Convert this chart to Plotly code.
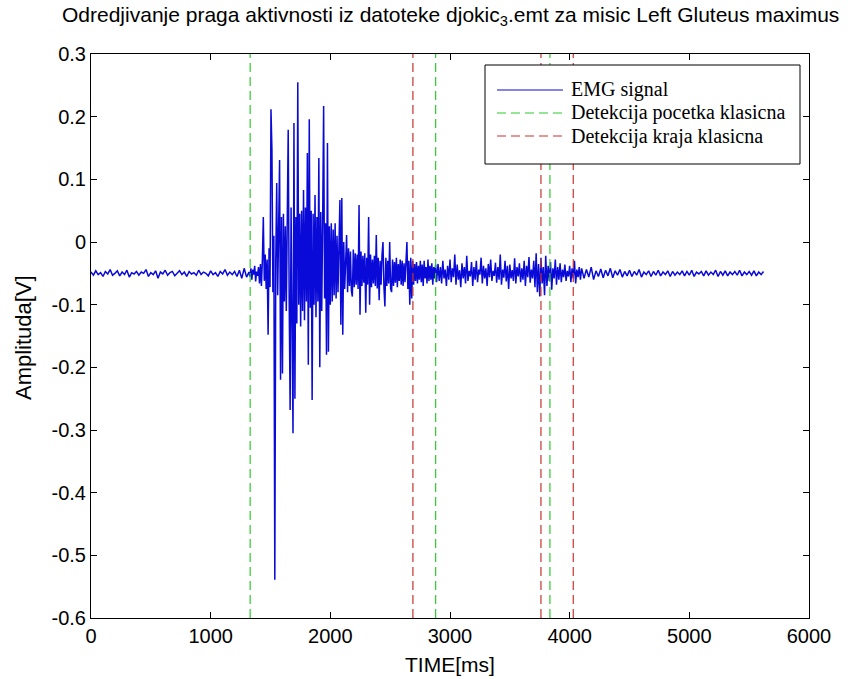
import plotly.graph_objects as go

# ---------------- data (amplitudes in mV, times in ms) ----------------
# baseline segment: starts at 0 ms, 20 ms sampling
base_t0, base_dt = 0, 20
base_mv = [
    -48, -53, -46, -52, -49, -55, -47, -51, -44, -53,
    -50, -46, -54, -48, -52, -45, -56, -49, -51, -47,
    -53, -48, -50, -44, -55, -49, -52, -46, -58, -48,
    -51, -45, -53, -49, -47, -54, -50, -46, -52, -48,
    -55, -47, -51, -49, -53, -45, -52, -48, -50, -54,
    -46, -52, -49, -55, -47, -51, -44, -53, -48, -52,
    -47, -55, -45, -58, -42, -56,
]
# burst segment: starts at 1320 ms, 8 ms sampling
burst_t0, burst_dt = 1320, 8
burst_mv = [
    -48, -55, -42, -60, -44, -52, -38, -63, -47, -54,
    -40, -66, -35, -70, -30, 40, -62, -20, -75, -28,
    -148, -10, -72, 212, 147, -80, 10, -539, -30, 94,
    -85, 20, 131, -220, 40, -210, 45, -95, 25, -110,
    50, 179, -90, -268, 55, -120, -305, 190, -250, 40,
    -130, 255, -100, 45, -135, 50, -110, 83, -125, 55,
    -95, 142, -196, 196, -105, 50, -252, 45, -100, 75,
    -120, 40, -95, 134, -200, 48, -110, 35, 217, -90,
    30, -180, 158, -175, 25, -100, 30, -95, 20, -85,
    30, -90, 10, -80, 15, 67, -132, 70, -148, 0,
    -75, -5, 11, -80, -10, -70, -15, -78, -87, -12,
    -72, -18, -68, -20, -75, 59, -116, -15, -70, -22,
    -65, -18, -113, -25, -68, 40, -100, -20, -72, -28,
    -66, -22, -70, 11, -74, -25, -93, -30, -68, -20,
    0, -72, -103, -25, -70, -30, -66, 0, -75, -80,
    -28, -70, -32, -65, -25, -72, -35, -62, -28, -68,
    -30, -70, -34, -64, -28, 0, -75, -30, -100, -25,
    -90, -30, -68, -35, -62, -32, -66, -38, -60, -30,
    -64, -36, -70, -30, -58, -40, -66, -28, -62, -38,
    -60, -34, -68, -40, -58, -36, -64, -42,
]
# post-burst segment: starts at 2900 ms, 10 ms sampling
post_t0, post_dt = 2900, 10
post_mv = [
    -35, -62, -40, -66, -30, -58, -44, -70, -38, -60,
    -28, -64, -42, -56, -20, -68, -36, -60, -45, -72,
    -34, -58, -40, -66, -22, -62, -46, -55, -32, -70,
    -40, -60, -30, -64, -44, -52, -25, -66, -38, -58,
    -42, -70, -35, -56, -28, -62, -46, -54, -33, -65,
    -40, -60, -20, -68, -44, -57, -30, -63, -38, -75,
    -36, -58, -45, -62, -26, -66, -40, -55, -34, -64,
    -42, -60, -30, -70, -38, -56, -24, -65, -44, -58,
    -30, -72, -18, -80, -35, -87, -25, -66, -40, -85,
    -22, -70, -38, -62, -32, -76, -42, -58, -28, -68,
    -40, -60, -34, -64, -44, -56, -36, -62, -46, -55,
    -38, -64, -42, -58, -30, -66, -44, -56, -40, -60,
]
# tail segment: starts at 4100 ms, 20 ms sampling
tail_t0, tail_dt = 4100, 20
tail_mv = [
    -42, -58, -44, -56, -40, -60, -46, -55, -43, -57,
    -45, -54, -42, -57, -46, -53, -44, -56, -47, -54,
    -45, -55, -47, -53, -44, -56, -48, -52, -46, -55,
    -47, -53, -45, -54, -48, -52, -46, -55, -47, -53,
    -48, -52, -46, -54, -47, -53, -45, -55, -48, -51,
    -47, -54, -46, -53, -48, -52, -45, -55, -47, -53,
    -46, -54, -48, -52, -47, -53, -45, -54, -48, -52,
    -47, -53, -46, -54, -48, -52, -47,
]

onset_ms = [1330, 2880, 3835]    # Detekcija pocetka klasicna
offset_ms = [2690, 3760, 4030]   # Detekcija kraja klasicna

x_ticks = [0, 1000, 2000, 3000, 4000, 5000, 6000]
y_ticks = [0.3, 0.2, 0.1, 0, -0.1, -0.2, -0.3, -0.4, -0.5, -0.6]
y_labels = ["0.3", "0.2", "0.1", "0", "-0.1", "-0.2", "-0.3", "-0.4", "-0.5", "-0.6"]

series_names = ["EMG signal", "Detekcija pocetka klasicna", "Detekcija kraja klasicna"]
series_colors = ["#0a0ad8", "#2ecc2e", "#c83232"]
series_dash = ["solid", "9px,5px", "9px,5px"]

# ---------------- build series ----------------
t, v = [], []
for t0, dt, seg in [(base_t0, base_dt, base_mv), (burst_t0, burst_dt, burst_mv),
                    (post_t0, post_dt, post_mv), (tail_t0, tail_dt, tail_mv)]:
    for i, mv in enumerate(seg):
        t.append(t0 + i * dt)
        v.append(mv / 1000.0)

def vlines(xs):
    xx, yy = [], []
    for x in xs:
        xx += [x, x, None]
        yy += [-0.6, 0.3, None]
    return xx, yy

fig = go.Figure()
fig.add_trace(go.Scatter(x=t, y=v, mode="lines", name=series_names[0], showlegend=False,
                         line=dict(color=series_colors[0], width=1.5)))
gx, gy = vlines(onset_ms)
fig.add_trace(go.Scatter(x=gx, y=gy, mode="lines", name=series_names[1], showlegend=False,
                         line=dict(color=series_colors[1], width=1.2, dash=series_dash[1])))
rx, ry = vlines(offset_ms)
fig.add_trace(go.Scatter(x=rx, y=ry, mode="lines", name=series_names[2], showlegend=False,
                         line=dict(color=series_colors[2], width=1.2, dash=series_dash[2])))

# plot-area pixel geometry helpers
L, R, T, B = 91, 809, 54, 618
def px(xp):
    return (xp - L) / (R - L)
def py(yp):
    return (B - yp) / (B - T)

sans = "Liberation Sans, Arial, sans-serif"
serif = "Liberation Serif, Times New Roman, serif"
axis_common = dict(showline=True, linecolor="black", linewidth=1, mirror="allticks",
                   ticks="inside", ticklen=6, tickcolor="black", showgrid=False,
                   zeroline=False, tickfont=dict(family=sans, size=20, color="black"))

# legend box (MATLAB style) built from shapes + annotations
shapes = [dict(type="rect", xref="paper", yref="paper", x0=px(485), x1=px(800),
               y0=py(164), y1=py(65), line=dict(color="black", width=1),
               fillcolor="white", layer="above")]
annotations = []
row_y = [90, 113, 136]
for name, col, dsh, ry_ in zip(series_names, series_colors, series_dash, row_y):
    shapes.append(dict(type="line", xref="paper", yref="paper", x0=px(497), x1=px(563),
                       y0=py(ry_), y1=py(ry_), layer="above",
                       line=dict(color=col, width=1.2, dash=dsh)))
    annotations.append(dict(text=name, xref="paper", yref="paper", x=px(569), y=py(ry_),
                            xanchor="left", yanchor="middle", showarrow=False,
                            font=dict(family=serif, size=20, color="black")))

annotations += [
    dict(text="Odredjivanje praga aktivnosti iz datoteke djokic<sub>3</sub>.emt za misic Left Gluteus maximus",
         xref="paper", yref="paper", x=0.5, y=py(16), xanchor="center", yanchor="middle",
         showarrow=False, font=dict(family=sans, size=21, color="black")),
    dict(text="TIME[ms]", xref="paper", yref="paper", x=0.5, y=py(664),
         xanchor="center", yanchor="middle", showarrow=False,
         font=dict(family=sans, size=21, color="black")),
    dict(text="Amplituda[V]", xref="paper", yref="paper", x=px(23), y=py(338),
         xanchor="center", yanchor="middle", textangle=-90, showarrow=False,
         font=dict(family=sans, size=22, color="black")),
]

fig.update_layout(
    width=853, height=679,
    margin=dict(l=L, r=853 - R, t=T, b=679 - B),
    paper_bgcolor="white", plot_bgcolor="white",
    showlegend=False,
    shapes=shapes,
    annotations=annotations,
    xaxis=dict(range=[0, 6000], tickvals=x_ticks, ticktext=[str(x) for x in x_ticks], **axis_common),
    yaxis=dict(range=[-0.6, 0.3], tickvals=y_ticks, ticktext=y_labels, **axis_common),
)

fig.write_html("out.html")
